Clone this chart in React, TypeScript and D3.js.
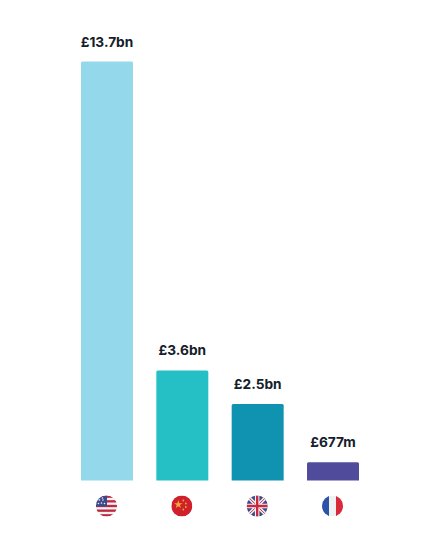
import React from 'react';
import * as d3 from 'd3';

const countries = ['US', 'China', 'UK', 'France'];
// bar lengths, in £bn
const values = [13.7, 3.6, 2.5, 0.6];
const labels = ['£13.7bn', '£3.6bn', '£2.5bn', '£677m'];
const colors = ['#93d8eb', '#25c0c5', '#1093b1', '#504c9b'];

const width = 442;
const height = 550;
const baseline = 480.5;

const x = d3.scaleBand<string>().domain(countries).range([81, 359]).paddingInner(0.31).paddingOuter(0);
const y = d3.scaleLinear().domain([0, 13.7]).range([baseline, 61.5]);

const R = 10.5;

const USFlag = () => {
  const stripes = d3.range(-R, R, (2 * R) / 9);
  return (
    <g>
      <rect x={-R} y={-R} width={2 * R} height={2 * R} fill="#f4f1f2" />
      {stripes.map((s, i) =>
        i % 2 === 0 ? <rect key={i} x={-R} y={s} width={2 * R} height={(2 * R) / 9} fill="#bd2a40" /> : null
      )}
      <rect x={-R} y={-R} width={R * 1.05} height={R * 1.05} fill="#3b4a8c" />
      {[[-7, -6], [-3.5, -6], [-5, -3], [-8, -2.5], [-2, -2.5], [-4, -8]].map(([a, b], i) => (
        <circle key={i} cx={a} cy={b} r={0.8} fill="#f4f1f2" />
      ))}
    </g>
  );
};

const ChinaFlag = () => (
  <g>
    <rect x={-R} y={-R} width={2 * R} height={2 * R} fill="#cf202c" />
    <path d={d3.symbol(d3.symbolStar, 22)() || ''} transform="translate(-3.5,-1.5)" fill="#f0a93a" />
    {[[1.5, -5.5], [4, -2.5], [4, 1], [1.5, 3.5]].map(([a, b], i) => (
      <circle key={i} cx={a} cy={b} r={0.9} fill="#f0a93a" />
    ))}
  </g>
);

const UKFlag = () => (
  <g>
    <rect x={-R} y={-R} width={2 * R} height={2 * R} fill="#3f4a85" />
    <path d={`M${-R},${-R}L${R},${R}M${R},${-R}L${-R},${R}`} stroke="#f4f1f2" strokeWidth={3.5} />
    <path d={`M${-R},${-R}L${R},${R}M${R},${-R}L${-R},${R}`} stroke="#c9283e" strokeWidth={1} />
    <path d={`M0,${-R}V${R}M${-R},0H${R}`} stroke="#f4f1f2" strokeWidth={4.5} />
    <path d={`M0,${-R}V${R}M${-R},0H${R}`} stroke="#c9283e" strokeWidth={2.4} />
  </g>
);

const FranceFlag = () => (
  <g>
    <rect x={-R} y={-R} width={7} height={2 * R} fill="#2a52a8" />
    <rect x={-R + 7} y={-R} width={7} height={2 * R} fill="#f1f0f3" />
    <rect x={-R + 14} y={-R} width={7} height={2 * R} fill="#d8283a" />
  </g>
);

const flags = [USFlag, ChinaFlag, UKFlag, FranceFlag];

const App = () => {
  return (
    <svg
      width={width}
      height={height}
      style={{ position: 'absolute', left: 0, top: 0, background: '#fff' }}
    >
      <defs>
        <clipPath id="flagClip">
          <circle r={R} />
        </clipPath>
      </defs>
      {countries.map((c, i) => {
        const Flag = flags[i];
        const cx = (x(c) || 0) + x.bandwidth() / 2;
        return (
          <g key={c}>
            <path
              d={`M${x(c)},${baseline}V${y(values[i]) + 1.5}q0,-1.5 1.5,-1.5H${(x(c) || 0) + x.bandwidth() - 1.5}q1.5,0 1.5,1.5V${baseline}Z`}
              fill={colors[i]}
            />
            <text
              x={cx}
              y={y(values[i]) - 15}
              textAnchor="middle"
              fontFamily="Inter"
              fontWeight={700}
              fontSize={13.7}
              fill="#14202b"
            >
              {labels[i]}
            </text>
            <g transform={`translate(${cx - 0.5},506)`} clipPath="url(#flagClip)">
              <Flag />
            </g>
          </g>
        );
      })}
    </svg>
  );
};

export default App;
